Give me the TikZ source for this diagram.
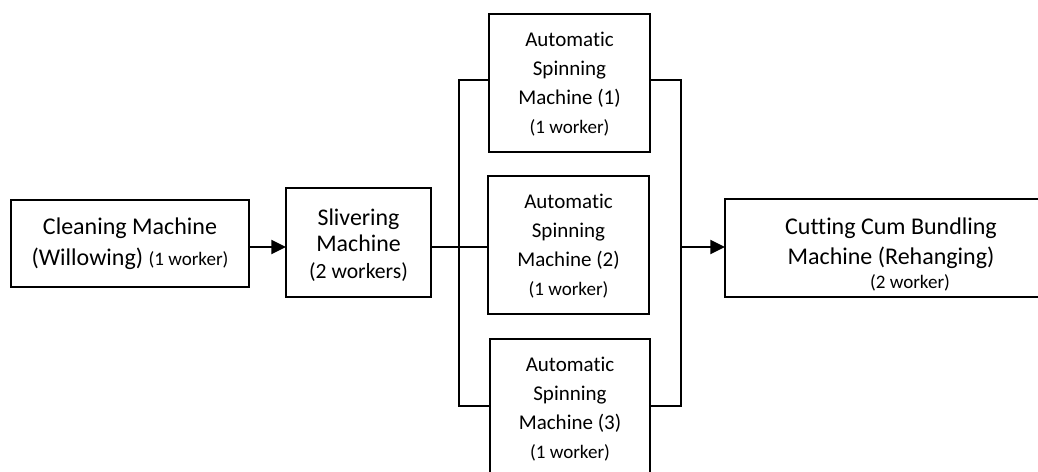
\documentclass[tikz,border=0pt]{standalone}
\usepackage{fontspec}
\setmainfont{Carlito}[Ligatures=NoCommon]
\usetikzlibrary{arrows.meta}
\newcommand{\smallf}{\fontsize{14.3}{21.75}\selectfont}
\tikzset{
  box/.style={draw, line width=1.4pt, inner sep=0pt, outer sep=0pt, align=center, fill=white},
  txt/.style={align=center, inner sep=0pt},
  conn/.style={line width=1.4pt},
  arr/.style={conn, -{Triangle[length=11pt,width=10.5pt]}},
  fsize/.style 2 args={font={\fontsize{#1}{#2}\selectfont}},
}
\begin{document}
\begin{tikzpicture}[x=0.75pt,y=-0.75pt]
\useasboundingbox (0,0) rectangle (1038,471);
\fill[white] (0,0) rectangle (1038,471);
\clip (0,0) rectangle (1038,471);
% boxes
\node[box, fsize={18}{23.25}, minimum width=178.5pt, minimum height=65.25pt] (clean) at (130,243.5)
  {Cleaning Machine\\(Willowing) {\smallf (1 worker)}};
\node[box, minimum width=108.75pt, minimum height=81.75pt] (sliver) at (358.5,242.5) {};
\node[txt, fsize={17.9}{19.9}] (slivertext) at (358.5,245)
  {Slivering\\Machine\\{\fontsize{16.25}{19.9}\selectfont (2 workers)}};
\node[box, minimum width=120.75pt, minimum height=103.5pt] (sp1) at (569.5,83) {};
\node[txt, fsize={15.75}{21.75}] (sp1text) at (569.5,84.5)
  {Automatic\\Spinning\\Machine (1)\\{\smallf (1 worker)}};
\node[box, minimum width=120.75pt, minimum height=103.5pt] (sp2) at (568.5,245) {};
\node[txt, fsize={15.75}{21.75}] (sp2text) at (568.5,246.5)
  {Automatic\\Spinning\\Machine (2)\\{\smallf (1 worker)}};
\node[box, minimum width=120pt, minimum height=103.5pt] (sp3) at (570,408) {};
\node[txt, fsize={15.75}{21.75}] (sp3text) at (570,409.5)
  {Automatic\\Spinning\\Machine (3)\\{\smallf (1 worker)}};
\node[box, minimum width=249pt, minimum height=73.5pt] (cut) at (891,248) {};
\node[txt, fsize={18}{22.5}] (cuttext) at (891,254.5)
  {Cutting Cum Bundling\\Machine (Rehanging)\\[-4.5pt]{\fontsize{14.3}{15}\selectfont\hspace*{28.5pt}(2 worker)}};
% coordinates
\coordinate (mid) at (0,247);
\coordinate (bl1) at (459,80);
\coordinate (bl3) at (459,406);
\coordinate (br1) at (681,80);
\coordinate (br3) at (681,406);
\coordinate (brm) at (681,247);
% connectors
\draw[arr] (clean.east |- mid) -- (sliver.west |- mid);
\draw[conn] (sliver.east |- mid) -- (sp2.west |- mid);
\draw[conn] (bl1 -| sp1.west) -- (bl1) -- (bl3) -- (bl3 -| sp3.west);
\draw[conn] (br1 -| sp1.east) -- (br1) -- (br3) -- (br3 -| sp3.east);
\draw[arr] (brm) -- (cut.west |- mid);
\end{tikzpicture}
\end{document}
